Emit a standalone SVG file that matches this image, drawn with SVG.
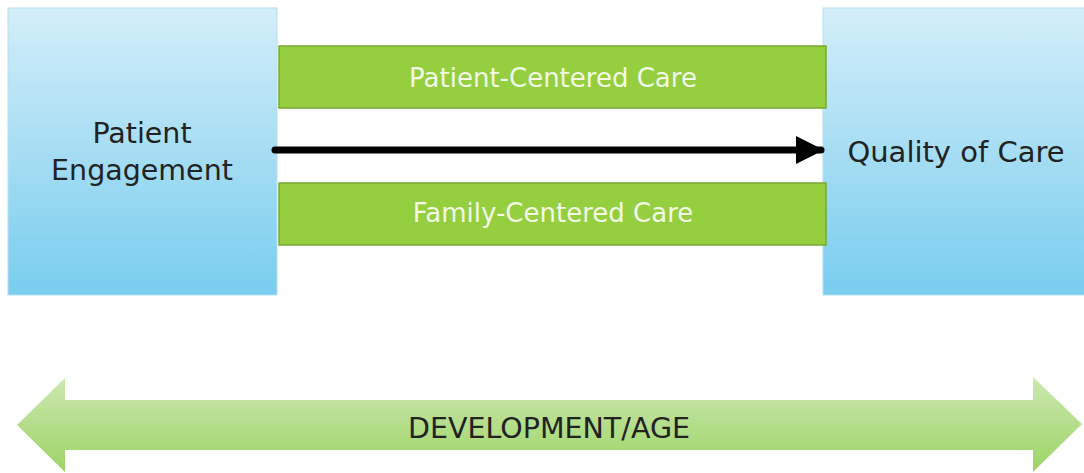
<svg xmlns="http://www.w3.org/2000/svg" width="1084" height="473" viewBox="0 0 1084 473">
<defs>
<linearGradient id="blue" x1="0" y1="0" x2="0" y2="1">
<stop offset="0" stop-color="#d4eef9"/>
<stop offset="1" stop-color="#78cdee"/>
</linearGradient>
<linearGradient id="lgreen" x1="0" y1="0" x2="0" y2="1">
<stop offset="0" stop-color="#cce8b0"/>
<stop offset="1" stop-color="#9dd466"/>
</linearGradient>
<marker id="head" viewBox="0 0 10 10" refX="9" refY="5" markerWidth="4" markerHeight="4" markerUnits="strokeWidth" orient="auto">
<path d="M0,0 L10,5 L0,10 Z" fill="#000"/>
</marker>
<style>
.blue{fill:url(#blue);stroke:#b4e0f2;stroke-width:1}
.green{fill:#95cf3f;stroke:#78a832;stroke-width:1.5}
.t{font-family:"DejaVu Sans",sans-serif;fill:#222;text-anchor:middle}
.w{font-family:"DejaVu Sans",sans-serif;fill:#f2f9e6;text-anchor:middle;font-size:26px}
</style>
</defs>
<g id="patient-engagement">
<rect class="blue" x="8" y="8" width="269" height="287"/>
<text class="t" x="142" y="143" font-size="28.5">Patient</text>
<text class="t" x="142" y="180" font-size="28.5">Engagement</text>
</g>
<g id="quality-of-care">
<rect class="blue" x="823" y="8" width="262" height="287"/>
<text class="t" x="956" y="162" font-size="29">Quality of Care</text>
</g>
<g id="patient-centered-care">
<rect class="green" x="279" y="46" width="547" height="62"/>
<text class="w" x="553" y="87">Patient-Centered Care</text>
</g>
<g id="family-centered-care">
<rect class="green" x="279" y="183" width="547" height="62"/>
<text class="w" x="553" y="222">Family-Centered Care</text>
</g>
<g id="development-age">
<path d="M17,425 L65,378 L65,400 L1033,400 L1033,377 L1082,424 L1033,472 L1033,450 L65,450 L65,472 Z" fill="url(#lgreen)"/>
<text class="t" x="549" y="438" font-size="28.5">DEVELOPMENT/AGE</text>
</g>
<g id="connectors">
<line x1="275" y1="150" x2="821" y2="150" stroke="#000" stroke-width="7" stroke-linecap="round" marker-end="url(#head)"/>
</g>
</svg>
